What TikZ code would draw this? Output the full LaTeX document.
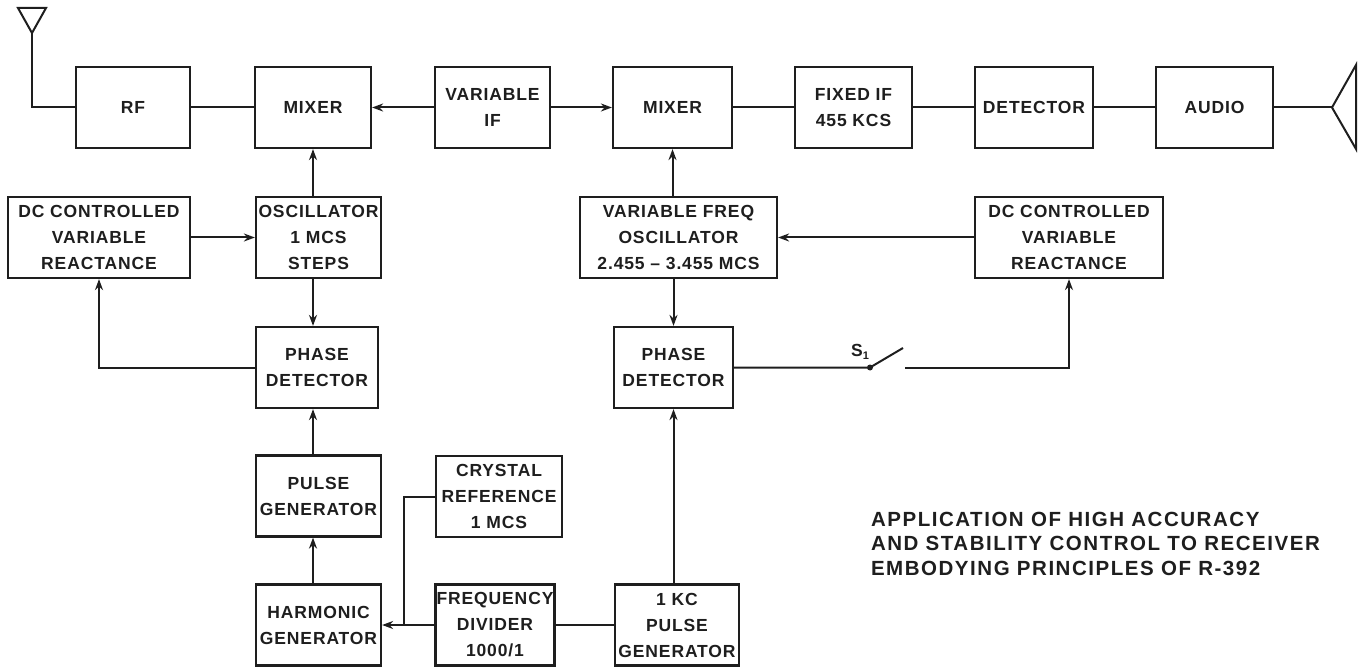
\documentclass[tikz,border=0pt]{standalone}
\usepackage{fontspec}
\usepackage{tikz}
\usetikzlibrary{arrows.meta,positioning}
\newfontfamily\boxfont[LetterSpace=5.0]{Liberation Sans}
\newfontfamily\capfont[LetterSpace=7.5]{Liberation Sans}
\definecolor{ink}{RGB}{30,30,30}

\begin{document}
\begin{tikzpicture}[
  x=1pt, y=-1pt,
  line width=2pt, draw=ink,
  blk/.style={rectangle, draw, line width=2.2pt, inner sep=1pt, minimum height=81pt,
    align=center, text=ink, font=\boxfont\bfseries\fontsize{17.5}{26}\selectfont},
  captxt/.style={inner sep=0pt, align=left, text=ink,
    font=\capfont\bfseries\fontsize{20.5}{24.5}\selectfont},
  arr/.style={-{Stealth[length=11pt, width=8pt]}}
]
  \useasboundingbox (0,0) rectangle (1365,668);
  % ---------------- top row ----------------
  \node[blk, minimum width=114pt] (rf)   at (133,107.5) {RF};
  \node[blk, minimum width=116pt] (mix1) at (313,107.5) {MIXER};
  \node[blk, minimum width=115pt] (vif)  at (492.5,107.5) {VARIABLE\\IF};
  \node[blk, minimum width=119pt] (mix2) at (672.5,107.5) {MIXER};
  \node[blk, minimum width=117pt] (fif)  at (853.5,107.5) {FIXED IF\\455 KCS};
  \node[blk, minimum width=118pt] (det)  at (1034,107.5) {DETECTOR};
  \node[blk, minimum width=117pt] (aud)  at (1214.5,107.5) {AUDIO};
  % ---------------- left loop ----------------
  \node[blk, minimum width=182pt] (dcl)  at (99,237.5) {DC CONTROLLED\\VARIABLE\\REACTANCE};
  \node[blk, minimum width=125pt] (osc)  at (318.5,237.5) {OSCILLATOR\\1 MCS\\STEPS};
  \node[blk, minimum width=122pt] (pd1)  at (317,367.5) {PHASE\\DETECTOR};
  \node[blk, minimum width=125pt] (pg)   at (318.5,496) {PULSE\\GENERATOR};
  \node[blk, minimum width=125pt] (hg)   at (318.5,625) {HARMONIC\\GENERATOR};
  \node[blk, minimum width=126pt] (xtal) at (499,496.5) {CRYSTAL\\REFERENCE\\1 MCS};
  \node[blk, minimum width=118pt] (div)  at (495,625) {FREQUENCY\\DIVIDER\\1000/1};
  \node[blk, minimum width=124pt] (kc)   at (677,625) {1 KC\\PULSE\\GENERATOR};
  % ---------------- right loop ----------------
  \node[blk, minimum width=197pt] (vfo)  at (678.5,237.5) {VARIABLE FREQ\\OSCILLATOR\\2.455 \textendash\ 3.455 MCS};
  \node[blk, minimum width=119pt] (pd2)  at (673.5,367.5) {PHASE\\DETECTOR};
  \node[blk, minimum width=188pt] (dcr)  at (1069,237.5) {DC CONTROLLED\\VARIABLE\\REACTANCE};
  % caption
  \node[captxt, anchor=north west] (title) at (870,511)
    {APPLICATION OF HIGH ACCURACY\\AND STABILITY CONTROL TO RECEIVER\\EMBODYING PRINCIPLES OF R-392};
  % ---------------- antenna, speaker, switch points ----------------
  \coordinate (ant) at (32,33);
  \coordinate (spk) at (1332,107.5);
  \coordinate (jn)  at (404,625);
  \coordinate (swa) at (870,367.5);
  \coordinate (swb) at (903,348);
  \coordinate (swc) at (905,367.5);
  \draw (ant) -- (18,8) -- (46,8) -- cycle;
  \draw (spk) -- (1356,65) -- (1356,149) -- cycle;
  \node[text=ink, font=\boxfont\bfseries\fontsize{17.5}{20}\selectfont, inner sep=0pt] (s1) at (860,352)
    {S\raisebox{-3pt}{\fontsize{11}{11}\selectfont 1}};
  % ---------------- connectors ----------------
  \draw (ant) |- (rf.west);
  \draw (rf.east) -- (mix1.west);
  \draw[arr] (vif.west) -- (mix1.east);
  \draw[arr] (vif.east) -- (mix2.west);
  \draw (mix2.east) -- (fif.west);
  \draw (fif.east) -- (det.west);
  \draw (det.east) -- (aud.west);
  \draw (aud.east) -- (spk);
  \draw[arr] (osc.north -| mix1) -- (mix1.south);
  \draw[arr] (dcl.east) -- (osc.west);
  \draw[arr] (osc.south -| mix1) -- (pd1.north -| mix1);
  \draw[arr] (pd1.west) -| (dcl.south);
  \draw[arr] (pg.north -| mix1) -- (pd1.south -| mix1);
  \draw[arr] (hg.north -| mix1) -- (pg.south -| mix1);
  \draw[arr] (div.west) -- (hg.east);
  \draw (xtal.west) -| (jn);
  \draw (div.east) -- (kc.west);
  \draw[arr] (kc.north -| pd2) -- (pd2.south);
  \draw[arr] (vfo.north -| mix2) -- (mix2.south);
  \draw[arr] (vfo.south -| pd2) -- (pd2.north);
  \draw[arr] (dcr.west) -- (vfo.east);
  \draw (pd2.east) -- (swa) -- (swb);
  \fill[ink] (swa) circle (3pt);
  \draw[arr] (swc) -| (dcr.south);
\end{tikzpicture}
\end{document}
